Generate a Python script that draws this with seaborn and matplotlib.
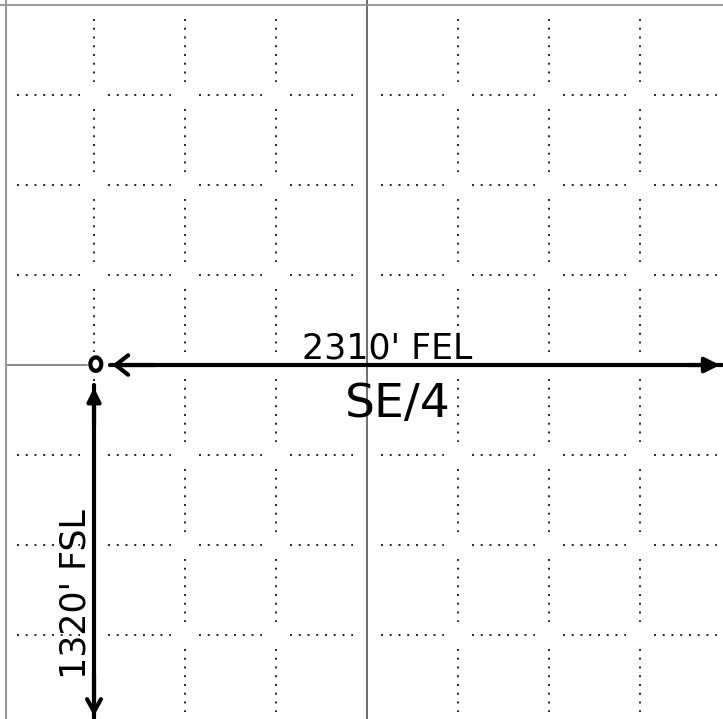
import numpy as np
import pandas as pd
import matplotlib
matplotlib.use("Agg")
import matplotlib.pyplot as plt
from matplotlib.patches import Ellipse
import seaborn as sns

# section plat: 8 x 8 cells, center lines solid, others dotted
n_cells = 8
center_line = 4
dotted_lines = [1, 2, 3, 5, 6, 7]

# well location (grid units from NW corner) and footage calls
well_x = 1.0
well_y = 4.0
fel_label = "2310' FEL"
fsl_label = "1320' FSL"
quarter_label = "SE/4"

# build the dotted grid segments (one unit per segment)
rows = []
uid = 0
for g in dotted_lines:
    for c in range(n_cells):
        # horizontal piece
        rows.append({"x": c + 0.15, "y": g, "unit": uid})
        rows.append({"x": c + 0.85, "y": g, "unit": uid})
        uid += 1
        # vertical piece
        rows.append({"x": g, "y": c + 0.15, "unit": uid})
        rows.append({"x": g, "y": c + 0.85, "unit": uid})
        uid += 1
grid_df = pd.DataFrame(rows)

sns.set_style("white")
fig = plt.figure(figsize=(7.23, 7.19), dpi=100)
ax = fig.add_axes([0, 0, 1, 1])

sns.lineplot(data=grid_df, x="x", y="y", units="unit", estimator=None,
             sort=False, color="#222222", linewidth=1.4,
             linestyle=(0, (1, 3.5)), ax=ax, legend=False)

# solid section center lines and paper border
ax.axvline(center_line, color="#555555", lw=1.2)
ax.plot([0.03, well_x - 0.08], [center_line, center_line], color="#777777", lw=1.2)
ax.axhline(0, color="#888888", lw=1.2)
ax.axvline(0.033, color="#999999", lw=1.5)

# footage lines with arrow heads
ax.plot([well_x + 0.18, 7.9], [well_y, well_y], color="black", lw=3)
ax.annotate("", xy=(7.91, well_y), xytext=(7.5, well_y),
            arrowprops=dict(arrowstyle="-|>,head_length=0.9,head_width=0.45",
                            color="black", lw=3))
ax.annotate("", xy=(well_x + 0.17, well_y), xytext=(well_x + 0.7, well_y),
            arrowprops=dict(arrowstyle="->,head_length=0.9,head_width=0.7",
                            color="black", lw=3))
ax.plot([well_x, well_x], [well_y + 0.22, 7.92], color="black", lw=3)
ax.annotate("", xy=(well_x, well_y + 0.22), xytext=(well_x, well_y + 0.7),
            arrowprops=dict(arrowstyle="-|>,head_length=0.8,head_width=0.4",
                            color="black", lw=3))
ax.annotate("", xy=(well_x, 7.93), xytext=(well_x, 7.4),
            arrowprops=dict(arrowstyle="->,head_length=0.9,head_width=0.5",
                            color="black", lw=3))

# well symbol
ax.add_patch(Ellipse((well_x + 0.02, well_y - 0.01), 0.12, 0.15, fill=False,
                     edgecolor="black", lw=3))

# labels
ax.text(4.22, 3.82, fel_label, fontsize=25, ha="center", va="center",
        color="black")
ax.text(4.34, 4.44, quarter_label, fontsize=34, ha="center", va="center",
        color="black")
ax.text(0.80, 6.55, fsl_label, fontsize=25, ha="center", va="center",
        rotation=90, color="black")

ax.set_xlim(-0.033, 7.912)
ax.set_ylim(7.933, -0.056)
ax.axis("off")

fig.savefig("out.png", dpi=100, facecolor="white")
